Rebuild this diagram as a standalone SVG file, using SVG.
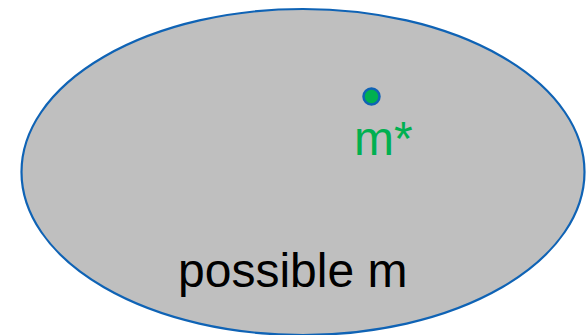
<svg xmlns="http://www.w3.org/2000/svg" width="586" height="335" viewBox="0 0 586 335">
<style>
.lbl{font-family:"Liberation Sans",Arial,sans-serif;font-size:48px}
</style>
<rect width="586" height="335" fill="#ffffff"/>
<g id="set">
<ellipse cx="303" cy="172" rx="281.5" ry="163" fill="#bfbfbf" stroke="#0f63b5" stroke-width="2.2"/>
<text class="lbl" x="178" y="287" fill="#000000">possible m</text>
</g>
<g id="mstar">
<circle cx="371.5" cy="96.5" r="8" fill="#00b050" stroke="#0f63b5" stroke-width="2.5"/>
<text class="lbl" x="354" y="155" fill="#00b050">m*</text>
</g>
<g id="connectors"/>
</svg>
